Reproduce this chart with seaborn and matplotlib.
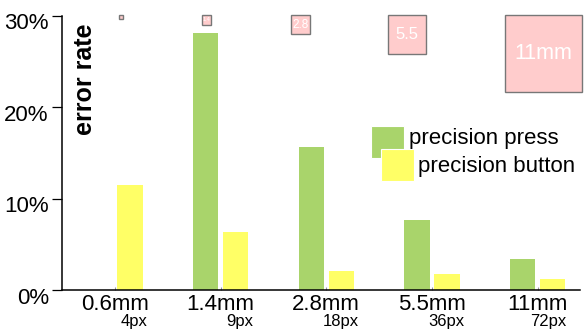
import numpy as np
import pandas as pd
import matplotlib
matplotlib.use('Agg')
import matplotlib.pyplot as plt
import matplotlib.transforms as mtransforms
from matplotlib.patches import Rectangle
import seaborn as sns

# data
sizes_mm = ['0.6mm', '1.4mm', '2.8mm', '5.5mm', '11mm']
sizes_px = ['4px', '9px', '18px', '36px', '72px']
target_px = [4, 9, 18, 36, 72]
target_text = ['', '1.4', '2.8', '5.5', '11mm']
series = ['precision press', 'precision button']
press_rate = [np.nan, 28.1, 15.6, 7.7, 3.4]
button_rate = [11.5, 6.3, 2.1, 1.75, 1.25]
yticks = [0, 10, 20, 30]

green = '#A9D46B'
yellow = '#FFFF66'
pink = '#FFCCCC'

sns.set_theme(style='white')
plt.rcParams['font.family'] = ['Liberation Sans', 'DejaVu Sans']
plt.rcParams['text.color'] = 'black'

df = pd.DataFrame({
    'size': sizes_mm * 2,
    'rate': press_rate + button_rate,
    'kind': [series[0]] * len(sizes_mm) + [series[1]] * len(sizes_mm),
}).dropna()

W, H = 585, 330
fig = plt.figure(figsize=(W / 100, H / 100), dpi=100)
ax = fig.add_axes([62 / W, 1 - 290 / H, 518 / W, 274.3 / H])

sns.barplot(data=df, x='size', y='rate', hue='kind', order=sizes_mm,
            hue_order=series, palette=[green, yellow], saturation=1,
            width=0.568, gap=0.15, errorbar=None, linewidth=0,
            legend=False, ax=ax)

ax.set_xlim(-0.5, 4.40)
ax.set_ylim(0, 30)
ax.set_xlabel('')
ax.set_ylabel('')
ax.set_yticks(yticks)
ax.set_yticklabels([f'{v}%' for v in yticks], fontsize=16, color='black')
ax.set_xticks(range(len(sizes_mm)))
ax.set_xticklabels(sizes_mm, fontsize=16, color='black')
for sp in ['top', 'right']:
    ax.spines[sp].set_visible(False)
for sp in ['left', 'bottom']:
    ax.spines[sp].set_color('black')
    ax.spines[sp].set_linewidth(1.1)
ax.tick_params(axis='y', direction='out', length=7.5, width=0.9, color='black', pad=2, left=True)
ax.tick_params(axis='x', direction='in', length=2, width=0.8, color='#999999', pad=3, bottom=True)
shift = mtransforms.ScaledTranslation(0, -4 / 72, fig.dpi_scale_trans)
for lab in ax.get_yticklabels():
    lab.set_transform(lab.get_transform() + shift)

# px sub-labels under each size label
for lab, sub in zip(ax.get_xticklabels(), sizes_px):
    ax.annotate(sub, xy=(1, 0), xycoords=lab, xytext=(-1, 1),
                textcoords='offset points', ha='right', va='top', fontsize=12)

ax.text(0.044, 0.77, 'error rate', transform=ax.transAxes, rotation=90,
        ha='center', va='center', fontsize=18, fontweight='bold')

# target squares at the top, sized by their pixel size
sq_offset = [6.5, -14, -26, -25, 6]
sq_font = [1, 4, 8.5, 12, 15.5]
for i, (px, txt) in enumerate(zip(target_px, target_text)):
    xc = ax.transData.transform((i, 0))[0] + sq_offset[i]
    s = px * 1.07
    x0, y1 = xc - s / 2, H - 15
    fig.patches.append(Rectangle((x0 / W, (y1 - s) / H), s / W, s / H,
                                 transform=fig.transFigure, facecolor=pink,
                                 edgecolor='#777777', linewidth=1.0))
    if txt:
        fig.text(xc / W, (y1 - s / 2) / H, txt, ha='center', va='center',
                 color='white', fontsize=sq_font[i])

# overlapping legend squares
legend_items = [(series[0], green, 371, 126, 409, 144),
                (series[1], yellow, 381, 149, 418, 172)]
for name, col, px0, py0, tx, ty in legend_items:
    fig.patches.append(Rectangle((px0 / W, 1 - (py0 + 32) / H), 33 / W, 32 / H,
                                 transform=fig.transFigure, facecolor=col,
                                 edgecolor='white', linewidth=0.8))
    fig.text(tx / W, 1 - ty / H, name, ha='left', va='baseline', fontsize=16)

fig.savefig('out.png', dpi=100)
